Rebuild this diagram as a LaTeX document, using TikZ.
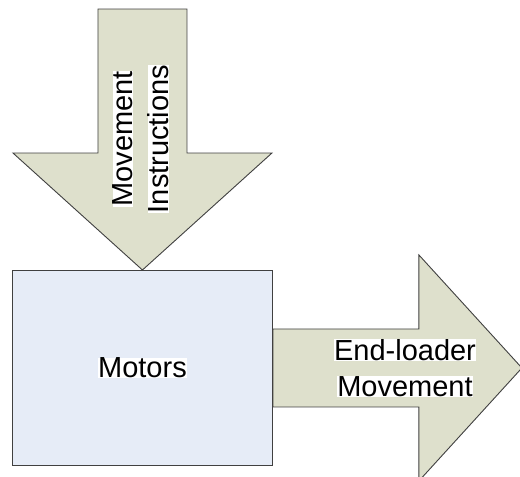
\documentclass[tikz,border=0pt]{standalone}
\usepackage{fontspec}
\setmainfont{Liberation Sans}
\usetikzlibrary{backgrounds,calc}
\definecolor{arrowfill}{RGB}{222,224,204}
\definecolor{boxfill}{RGB}{230,236,247}
\definecolor{edgegray}{RGB}{64,64,64}
% white highlight tight around a line of text
\newcommand{\whitebg}[1]{{\setlength{\fboxsep}{0pt}\colorbox{white}{#1}}}

\begin{document}
\begin{tikzpicture}[x=1pt,y=-1pt,
  blockarrow/.style={fill=arrowfill,draw=edgegray,line width=0.9pt,line join=miter},
  blocktext/.style={font=\fontsize{29}{36}\selectfont,align=center,inner sep=0pt}]
\useasboundingbox (0,0) rectangle (520,477);
\clip (0,0) rectangle (520,477);

% central block
\node[draw=edgegray,fill=boxfill,line width=0.9pt,minimum width=260pt,minimum height=195pt,
      inner sep=0pt,anchor=north west,blocktext] (motors) at (12,270) {\whitebg{Motors}};

\begin{scope}[on background layer]
  % incoming arrow, tip on the top edge of the block
  \draw[blockarrow] (motors.north) -- ++(-129.5,-117) -- ++(85,0) -- ++(0,-144)
        -- ++(89,0) -- ++(0,144) -- ++(85,0) -- cycle;
  % outgoing arrow, starting at the right edge of the block
  \draw[blockarrow] ($(motors.east)+(0,-39)$) -- ++(146,0) -- ++(0,-74) -- ++(103,113)
        -- ++(-103,113) -- ++(0,-74) -- ++(-146,0) -- cycle;
\end{scope}

\node[blocktext,rotate=90] (instr) at (141,139) {\whitebg{Movement}\\\whitebg{Instructions}};
\node[blocktext] (move) at (405,368) {\whitebg{End-loader}\\\whitebg{Movement}};
\end{tikzpicture}
\end{document}
